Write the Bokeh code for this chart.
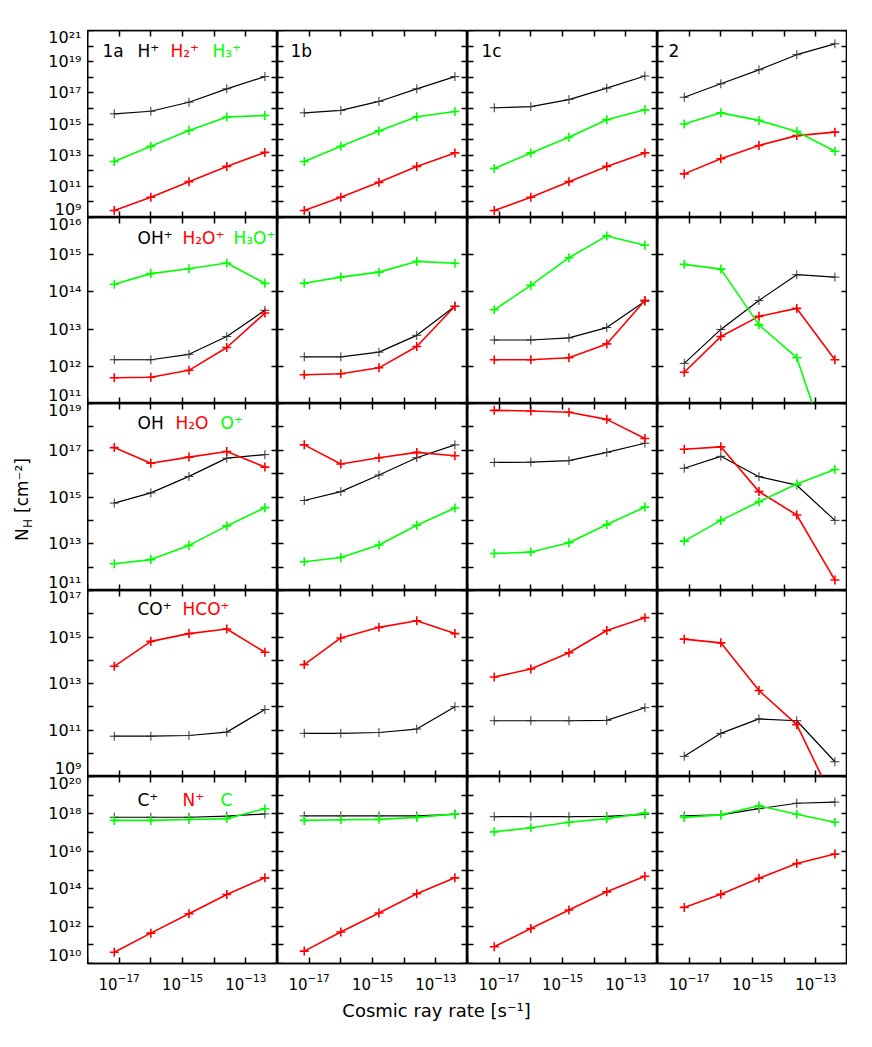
import math
from bokeh.plotting import figure
from bokeh.models import Range1d, FixedTicker, LogAxis, LogTickFormatter, Label, LogScale
from bokeh.layouts import gridplot, row, column
from bokeh.embed import file_html
from bokeh.resources import INLINE
from bokeh.core.properties import value

# ------------------------------------------------------------------ data
CR_RATE = [7.0e-18, 1.0e-16, 1.6e-15, 2.5e-14, 4.0e-13]
PANELS = ["1a", "1b", "1c", "2"]
X_RANGE_EXP = (-18, -12)
X_LABEL_EXP = [-17, -15, -13]

# row 1
H_PLUS = [[4.5e15, 6.6e15, 2.5e16, 1.8e17, 1.1e18],
          [5.2e15, 7.4e15, 2.8e16, 1.8e17, 1.1e18],
          [1.1e16, 1.3e16, 3.7e16, 2.0e17, 1.2e18],
          [5.2e16, 3.8e17, 3.0e18, 2.8e19, 1.4e20]]
H2_PLUS = [[2.8e9, 2.0e10, 2.0e11, 1.9e12, 1.5e13],
           [2.8e9, 2.0e10, 1.8e11, 1.9e12, 1.4e13],
           [2.8e9, 2.0e10, 2.0e11, 1.9e12, 1.4e13],
           [6.3e11, 5.9e12, 4.2e13, 1.8e14, 3.0e14]]
H3_PLUS = [[3.9e12, 3.7e13, 3.8e14, 2.8e15, 3.5e15],
           [3.9e12, 3.7e13, 3.6e14, 2.9e15, 6.3e15],
           [1.4e12, 1.4e13, 1.4e14, 1.9e15, 8.1e15],
           [1.0e15, 5.2e15, 1.7e15, 3.3e14, 1.8e13]]
# row 2
OH_PLUS = [[1.5e12, 1.5e12, 2.1e12, 6.3e12, 3.2e13],
           [1.8e12, 1.8e12, 2.4e12, 6.8e12, 4.1e13],
           [5.1e12, 5.1e12, 5.8e12, 1.1e13, 5.6e13],
           [1.2e12, 9.8e12, 5.9e13, 2.9e14, 2.5e14]]
H2O_PLUS = [[4.9e11, 5.1e11, 7.8e11, 3.2e12, 2.7e13],
            [5.9e11, 6.3e11, 9.1e11, 3.4e12, 4.1e13],
            [1.5e12, 1.5e12, 1.7e12, 4.0e12, 5.9e13],
            [6.9e11, 6.3e12, 2.2e13, 3.6e13, 1.5e12]]
H3O_PLUS = [[1.6e14, 3.1e14, 4.2e14, 6.0e14, 1.7e14],
            [1.7e14, 2.5e14, 3.4e14, 6.6e14, 5.9e14],
            [3.3e13, 1.5e14, 8.3e14, 3.2e15, 1.8e15],
            [5.5e14, 4.1e14, 1.3e13, 1.7e12, 1.6e9]]
# row 3
OH = [[5.5e14, 1.5e15, 7.6e15, 4.6e16, 6.5e16],
      [7.1e14, 1.7e15, 8.7e15, 4.8e16, 1.7e17],
      [3.0e16, 3.1e16, 3.6e16, 8.1e16, 2.0e17],
      [1.7e16, 5.5e16, 7.4e15, 3.2e15, 1.0e14]]
H2O = [[1.3e17, 2.8e16, 5.1e16, 8.9e16, 1.9e16],
       [1.7e17, 2.6e16, 4.8e16, 8.1e16, 5.8e16],
       [5.1e18, 4.8e18, 4.2e18, 2.1e18, 3.2e17],
       [1.1e17, 1.4e17, 1.7e15, 1.7e14, 2.8e11]]
O_PLUS = [[1.4e12, 2.1e12, 8.5e12, 5.8e13, 3.5e14],
          [1.7e12, 2.6e12, 8.9e12, 6.2e13, 3.4e14],
          [3.8e12, 4.4e12, 1.1e13, 6.6e13, 3.7e14],
          [1.3e13, 1.0e14, 6.3e14, 3.6e15, 1.5e16]]
# row 4
CO_PLUS = [[5.4e10, 5.4e10, 5.8e10, 8.1e10, 7.6e11],
           [7.2e10, 7.2e10, 7.8e10, 1.1e11, 1.0e12],
           [2.5e11, 2.5e11, 2.5e11, 2.6e11, 9.1e11],
           [7.4e9, 7.2e10, 3.0e11, 2.5e11, 4.3e9]]
HCO_PLUS = [[5.5e13, 6.5e14, 1.4e15, 2.2e15, 2.2e14],
            [6.5e13, 9.1e14, 2.6e15, 5.0e15, 1.4e15],
            [1.9e13, 4.2e13, 2.1e14, 1.9e15, 6.8e15],
            [8.1e14, 5.6e14, 5.0e12, 1.7e11, 6.9e7]]
# row 5
C_PLUS = [[6.6e17, 6.6e17, 6.6e17, 7.6e17, 1.0e18],
          [7.8e17, 7.8e17, 7.8e17, 7.8e17, 9.5e17],
          [7.1e17, 7.1e17, 7.1e17, 7.4e17, 9.5e17],
          [7.9e17, 8.9e17, 1.9e18, 3.7e18, 4.3e18]]
N_PLUS = [[4.0e10, 4.2e11, 4.6e12, 4.9e13, 3.8e14],
          [4.6e10, 4.8e11, 5.0e12, 5.4e13, 3.8e14],
          [7.8e10, 7.4e11, 7.2e12, 6.8e13, 4.6e14],
          [1.0e13, 5.0e13, 3.6e14, 2.2e15, 7.1e15]]
C_ATOM = [[4.5e17, 4.5e17, 5.0e17, 5.6e17, 1.9e18],
          [4.5e17, 4.9e17, 5.1e17, 6.5e17, 1.0e18],
          [1.1e17, 1.8e17, 3.6e17, 5.6e17, 1.1e18],
          [6.5e17, 8.9e17, 2.7e18, 9.5e17, 3.6e17]]

Y_RANGE_EXP = [(9, 21), (11, 16), (11, 19), (9, 17), (10, 20)]
Y_LABEL_EXP = [[9, 11, 13, 15, 17, 19, 21],
               [11, 12, 13, 14, 15, 16],
               [11, 13, 15, 17, 19],
               [9, 11, 13, 15, 17],
               [10, 12, 14, 16, 18, 20]]
ROW_LABELS = [["H⁺", "H₂⁺", "H₃⁺"],
              ["OH⁺", "H₂O⁺", "H₃O⁺"],
              ["OH", "H₂O", "O⁺"],
              ["CO⁺", "HCO⁺"],
              ["C⁺", "N⁺", "C"]]
ROW_SERIES = [[H_PLUS, H2_PLUS, H3_PLUS],
              [OH_PLUS, H2O_PLUS, H3O_PLUS],
              [OH, H2O, O_PLUS],
              [CO_PLUS, HCO_PLUS],
              [C_PLUS, N_PLUS, C_ATOM]]
X_TITLE = "Cosmic ray rate [s⁻¹]"

# ------------------------------------------------------------------ style
COLORS = ["#000000", "#ff0000", "#00ff00"]
MARKER_COLORS = ["#333333", "#ff0000", "#00ff00"]
FONT = "DejaVu Sans"
COL_W = 190
ROW_H = [187, 186, 187, 186, 187]
TOP, BOTTOM, LEFT = 30, 35, 87
H_TOTAL = TOP + sum(ROW_H) + BOTTOM
LABEL_X = [[50, 83, 125], [50, 95, 146], [50, 88, 133], [50, 95], [50, 95, 133]]
LABEL_DY = [20, 20, 19, 18, 23]
ID_X = [15, 13, 14, 11]

SUP = str.maketrans("-0123456789", "⁻⁰¹²³⁴⁵⁶⁷⁸⁹")


def pow10_label(k):
    return "10" + str(k).translate(SUP)


def style_axis(ax, ticker, labels, loc=None):
    ax.ticker = ticker
    ax.major_tick_in = 6
    ax.major_tick_out = 0
    ax.minor_tick_in = 6
    ax.minor_tick_out = 0
    ax.major_tick_line_width = 1.5
    ax.minor_tick_line_width = 1.5
    ax.major_tick_line_color = "black"
    ax.minor_tick_line_color = "black"
    ax.axis_line_width = 1.6
    ax.axis_line_color = "black"
    if labels:
        ax.formatter = LogTickFormatter()
        ax.major_label_text_font = FONT
        ax.major_label_text_font_size = "15px"
        ax.major_label_text_color = "black"
        ax.major_label_standoff = 9
    else:
        ax.fixed_location = loc
        ax.major_label_text_color = None
        ax.major_label_standoff = 0


x_range = Range1d(10.0 ** X_RANGE_EXP[0], 10.0 ** X_RANGE_EXP[1])
x_ticker = FixedTicker(
    ticks=[10.0 ** k for k in X_LABEL_EXP],
    minor_ticks=[10.0 ** k for k in range(X_RANGE_EXP[0], X_RANGE_EXP[1] + 1) if k not in X_LABEL_EXP],
)

grid_rows = []
for r in range(5):
    lo, hi = Y_RANGE_EXP[r]
    yr = Range1d(10.0 ** lo, 10.0 ** hi)
    y_ticker = FixedTicker(ticks=[10.0 ** k for k in range(lo, hi + 1)])
    figs = []
    for c in range(4):
        p = figure(x_axis_type="log", y_axis_type="log", x_range=x_range, y_range=yr,
                   frame_width=COL_W, frame_height=ROW_H[r], min_border=0,
                   min_border_top=TOP if r == 0 else 0,
                   min_border_bottom=BOTTOM if r == 4 else 0,
                   output_backend="svg", toolbar_location=None)
        p.grid.visible = False
        p.outline_line_color = "black"
        p.outline_line_width = 1.6
        style_axis(p.xaxis[0], x_ticker, r == 4, 10.0 ** lo)
        style_axis(p.yaxis[0], y_ticker, False, 10.0 ** X_RANGE_EXP[0])
        top_ax = LogAxis()
        style_axis(top_ax, x_ticker, False, 10.0 ** hi)
        p.add_layout(top_ax, "above")
        right_ax = LogAxis()
        style_axis(right_ax, y_ticker, False, 10.0 ** X_RANGE_EXP[1])
        p.add_layout(right_ax, "right")

        for s, series in enumerate(ROW_SERIES[r]):
            lw = 1.2 if s == 0 else 1.6
            p.line(CR_RATE, series[c], line_color=COLORS[s], line_width=lw)
            p.scatter(CR_RATE, series[c], marker="cross", size=9,
                      line_color=MARKER_COLORS[s], line_width=1.0 if s == 0 else 1.6)

        if r == 0:
            p.add_layout(Label(x=ID_X[c], y=ROW_H[r] - LABEL_DY[r], x_units="screen", y_units="screen",
                               text=PANELS[c], text_font=FONT, text_font_size="17px",
                               text_baseline="middle", text_color="black"))
        if c == 0:
            for s, txt in enumerate(ROW_LABELS[r]):
                p.add_layout(Label(x=LABEL_X[r][s], y=ROW_H[r] - LABEL_DY[r], x_units="screen",
                                   y_units="screen", text=txt, text_font=FONT,
                                   text_font_size="17px", text_baseline="middle",
                                   text_color=COLORS[s]))
        figs.append(p)
    grid_rows.append(figs)

grid = gridplot(grid_rows, toolbar_location=None)

# ----------------------------------------------- left strip: y tick labels + y title
ranges = {}
for r in range(5):
    lo, hi = Y_RANGE_EXP[r]
    top_px = TOP + sum(ROW_H[:r])
    d = ROW_H[r] / (hi - lo)
    start = lo - (H_TOTAL - top_px - ROW_H[r]) / d
    end = hi + top_px / d
    ranges[r] = Range1d(10.0 ** start, 10.0 ** end)

lf = figure(width=LEFT, height=H_TOTAL, x_range=Range1d(0, 1), y_range=ranges[0],
            y_axis_type="log", x_axis_location=None, y_axis_location=None,
            min_border=0, output_backend="svg", toolbar_location=None)
lf.extra_y_ranges = {f"row{r}": ranges[r] for r in range(1, 5)}
lf.extra_y_scales = {f"row{r}": LogScale() for r in range(1, 5)}
lf.outline_line_color = None
lf.grid.visible = False

for r in range(5):
    lo, hi = Y_RANGE_EXP[r]
    exps = Y_LABEL_EXP[r]
    offs = [7 if k == hi else (-8 if k == lo else 0) for k in exps]
    lf.text(x=[1] * len(exps), y=[10.0 ** k for k in exps], text=[pow10_label(k) for k in exps],
            y_range_name="default" if r == 0 else f"row{r}",
            text_align="right", text_baseline="middle", x_offset=-6, y_offset=offs,
            text_font=value(FONT), text_font_size=value("16px"), text_color="black")

ymid = H_TOTAL - ((TOP + TOP + sum(ROW_H)) / 2)
y0 = ymid - 44
lf.add_layout(Label(x=21, y=y0, x_units="screen", y_units="screen", text="N", angle=math.pi / 2,
                    text_font=FONT, text_font_size="17px", text_baseline="middle",
                    text_align="left", text_color="black"))
lf.add_layout(Label(x=27, y=y0 + 13, x_units="screen", y_units="screen", text="H", angle=math.pi / 2,
                    text_font=FONT, text_font_size="12px", text_baseline="middle",
                    text_align="left", text_color="black"))
lf.add_layout(Label(x=21, y=y0 + 28, x_units="screen", y_units="screen", text="[cm⁻²]",
                    angle=math.pi / 2, text_font=FONT, text_font_size="17px",
                    text_baseline="middle", text_align="left", text_color="black"))

# ----------------------------------------------- x title strip
xf = figure(width=4 * COL_W, height=30, x_range=Range1d(0, 1), y_range=Range1d(0, 1),
            x_axis_location=None, y_axis_location=None, min_border=0,
            output_backend="svg", toolbar_location=None)
xf.outline_line_color = None
xf.grid.visible = False
xf.add_layout(Label(x=349, y=18, x_units="screen", y_units="screen", text=X_TITLE,
                    text_font=FONT, text_font_size="18px", text_align="center",
                    text_baseline="middle", text_color="black"))

layout = row(lf, column(grid, xf))
open("out.html", "w").write(file_html(layout, INLINE))
